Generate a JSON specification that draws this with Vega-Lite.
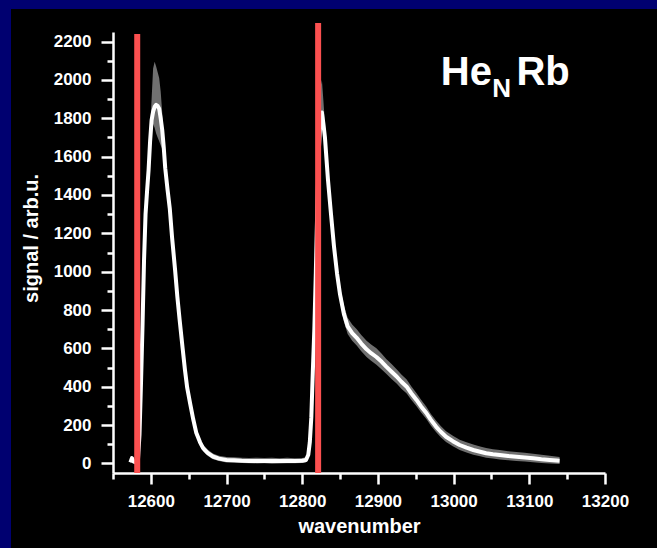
{
  "$schema": "https://vega.github.io/schema/vega-lite/v6.json",
  "width": 657,
  "height": 548,
  "autosize": {"type": "none", "contains": "padding"},
  "padding": {"left": 11, "top": 9, "right": 0, "bottom": 0},
  "background": "#000070",
  "config": {
    "view": {"fill": "black", "stroke": null},
    "font": "Liberation Sans",
    "axis": {
      "grid": false,
      "domainColor": "white",
      "tickColor": "white",
      "labelColor": "white",
      "titleColor": "white",
      "domainWidth": 2.5,
      "tickWidth": 2.5,
      "labelFont": "Liberation Sans",
      "labelFontSize": 17,
      "labelFontWeight": "bold",
      "titleFont": "Liberation Sans",
      "titleFontSize": 20,
      "titleFontWeight": "bold"
    }
  },
  "datasets": {
    "spectrum": [
      {"wn": 12573, "sig": 5, "lo": 0, "hi": 15},
      {"wn": 12575, "sig": 28, "lo": 15, "hi": 40},
      {"wn": 12577, "sig": 10, "lo": 0, "hi": 20},
      {"wn": 12580, "sig": 5, "lo": 0, "hi": 15},
      {"wn": 12583, "sig": 20, "lo": 5, "hi": 35},
      {"wn": 12585, "sig": 150, "lo": 120, "hi": 180},
      {"wn": 12587, "sig": 420, "lo": 390, "hi": 450},
      {"wn": 12589, "sig": 720, "lo": 690, "hi": 750},
      {"wn": 12591, "sig": 1060, "lo": 1030, "hi": 1090},
      {"wn": 12593, "sig": 1300, "lo": 1270, "hi": 1340},
      {"wn": 12595, "sig": 1420, "lo": 1390, "hi": 1460},
      {"wn": 12597, "sig": 1530, "lo": 1500, "hi": 1580},
      {"wn": 12599, "sig": 1680, "lo": 1640, "hi": 1740},
      {"wn": 12601, "sig": 1790, "lo": 1740, "hi": 1900},
      {"wn": 12603, "sig": 1835, "lo": 1770, "hi": 2060},
      {"wn": 12605, "sig": 1860, "lo": 1750, "hi": 2095},
      {"wn": 12607, "sig": 1870, "lo": 1720, "hi": 2070},
      {"wn": 12609, "sig": 1865, "lo": 1700, "hi": 2040},
      {"wn": 12611, "sig": 1850, "lo": 1680, "hi": 2010},
      {"wn": 12613, "sig": 1800, "lo": 1660, "hi": 1940},
      {"wn": 12615, "sig": 1740, "lo": 1640, "hi": 1830},
      {"wn": 12617, "sig": 1650, "lo": 1610, "hi": 1700},
      {"wn": 12619, "sig": 1540, "lo": 1515, "hi": 1565},
      {"wn": 12622, "sig": 1430, "lo": 1405, "hi": 1455},
      {"wn": 12625, "sig": 1330, "lo": 1305, "hi": 1355},
      {"wn": 12628, "sig": 1180, "lo": 1155, "hi": 1205},
      {"wn": 12632, "sig": 1010, "lo": 985, "hi": 1035},
      {"wn": 12635, "sig": 870, "lo": 850, "hi": 890},
      {"wn": 12638, "sig": 750, "lo": 730, "hi": 770},
      {"wn": 12642, "sig": 600, "lo": 580, "hi": 620},
      {"wn": 12645, "sig": 490, "lo": 470, "hi": 510},
      {"wn": 12648, "sig": 395, "lo": 375, "hi": 415},
      {"wn": 12652, "sig": 310, "lo": 290, "hi": 330},
      {"wn": 12656, "sig": 230, "lo": 210, "hi": 250},
      {"wn": 12660, "sig": 160, "lo": 142, "hi": 180},
      {"wn": 12665, "sig": 110, "lo": 92, "hi": 130},
      {"wn": 12669, "sig": 80, "lo": 64, "hi": 98},
      {"wn": 12675, "sig": 55, "lo": 40, "hi": 72},
      {"wn": 12682, "sig": 36, "lo": 22, "hi": 52},
      {"wn": 12690, "sig": 25, "lo": 12, "hi": 40},
      {"wn": 12700, "sig": 18, "lo": 5, "hi": 34},
      {"wn": 12710, "sig": 16, "lo": 4, "hi": 32},
      {"wn": 12720, "sig": 14, "lo": 2, "hi": 30},
      {"wn": 12730, "sig": 13, "lo": 1, "hi": 28},
      {"wn": 12740, "sig": 12, "lo": 0, "hi": 30},
      {"wn": 12750, "sig": 13, "lo": 1, "hi": 28},
      {"wn": 12760, "sig": 12, "lo": -2, "hi": 30},
      {"wn": 12770, "sig": 12, "lo": 0, "hi": 27},
      {"wn": 12780, "sig": 13, "lo": 1, "hi": 29},
      {"wn": 12790, "sig": 13, "lo": 1, "hi": 27},
      {"wn": 12800, "sig": 14, "lo": 2, "hi": 28},
      {"wn": 12805, "sig": 18, "lo": 6, "hi": 32},
      {"wn": 12808, "sig": 45, "lo": 30, "hi": 60},
      {"wn": 12810, "sig": 110, "lo": 90, "hi": 130},
      {"wn": 12812, "sig": 240, "lo": 215, "hi": 265},
      {"wn": 12814, "sig": 480, "lo": 455, "hi": 505},
      {"wn": 12816, "sig": 700, "lo": 670, "hi": 730},
      {"wn": 12818, "sig": 1000, "lo": 960, "hi": 1040},
      {"wn": 12820, "sig": 1350, "lo": 1300, "hi": 1400},
      {"wn": 12822, "sig": 1640, "lo": 1580, "hi": 1740},
      {"wn": 12824, "sig": 1790, "lo": 1720, "hi": 1960},
      {"wn": 12826, "sig": 1830, "lo": 1760, "hi": 2000},
      {"wn": 12828, "sig": 1770, "lo": 1720, "hi": 1890},
      {"wn": 12830, "sig": 1700, "lo": 1660, "hi": 1770},
      {"wn": 12832, "sig": 1590, "lo": 1560, "hi": 1630},
      {"wn": 12834, "sig": 1480, "lo": 1450, "hi": 1510},
      {"wn": 12838, "sig": 1300, "lo": 1270, "hi": 1330},
      {"wn": 12842, "sig": 1130, "lo": 1100, "hi": 1160},
      {"wn": 12846, "sig": 990, "lo": 960, "hi": 1025},
      {"wn": 12850, "sig": 880, "lo": 845, "hi": 920},
      {"wn": 12855, "sig": 780, "lo": 740, "hi": 825},
      {"wn": 12860, "sig": 715, "lo": 675, "hi": 760},
      {"wn": 12866, "sig": 680, "lo": 640, "hi": 725},
      {"wn": 12872, "sig": 655, "lo": 615, "hi": 700},
      {"wn": 12878, "sig": 625, "lo": 585, "hi": 670},
      {"wn": 12885, "sig": 595, "lo": 555, "hi": 640},
      {"wn": 12891, "sig": 575, "lo": 535, "hi": 620},
      {"wn": 12898, "sig": 555, "lo": 515, "hi": 600},
      {"wn": 12905, "sig": 530, "lo": 490, "hi": 572},
      {"wn": 12911, "sig": 505, "lo": 467, "hi": 545},
      {"wn": 12918, "sig": 478, "lo": 440, "hi": 518},
      {"wn": 12925, "sig": 452, "lo": 415, "hi": 490},
      {"wn": 12931, "sig": 426, "lo": 390, "hi": 464},
      {"wn": 12938, "sig": 400, "lo": 365, "hi": 438},
      {"wn": 12944, "sig": 366, "lo": 332, "hi": 402},
      {"wn": 12951, "sig": 331, "lo": 298, "hi": 366},
      {"wn": 12957, "sig": 297, "lo": 265, "hi": 332},
      {"wn": 12964, "sig": 263, "lo": 232, "hi": 296},
      {"wn": 12970, "sig": 227, "lo": 197, "hi": 258},
      {"wn": 12977, "sig": 191, "lo": 162, "hi": 222},
      {"wn": 12983, "sig": 165, "lo": 137, "hi": 195},
      {"wn": 12990, "sig": 139, "lo": 112, "hi": 168},
      {"wn": 12999, "sig": 116, "lo": 90, "hi": 144},
      {"wn": 13008, "sig": 96, "lo": 70, "hi": 124},
      {"wn": 13017, "sig": 82, "lo": 57, "hi": 110},
      {"wn": 13026, "sig": 70, "lo": 45, "hi": 98},
      {"wn": 13035, "sig": 61, "lo": 37, "hi": 88},
      {"wn": 13043, "sig": 53, "lo": 30, "hi": 80},
      {"wn": 13052, "sig": 48, "lo": 25, "hi": 74},
      {"wn": 13061, "sig": 44, "lo": 21, "hi": 70},
      {"wn": 13072, "sig": 39, "lo": 17, "hi": 64},
      {"wn": 13083, "sig": 35, "lo": 13, "hi": 60},
      {"wn": 13094, "sig": 31, "lo": 10, "hi": 55},
      {"wn": 13105, "sig": 27, "lo": 6, "hi": 50},
      {"wn": 13116, "sig": 22, "lo": 2, "hi": 45},
      {"wn": 13127, "sig": 18, "lo": 0, "hi": 40},
      {"wn": 13140, "sig": 14, "lo": -3, "hi": 34}
    ],
    "markers": [
      {"wn": 12582, "top": 2240, "bottom": -50},
      {"wn": 12821, "top": 2297, "bottom": -50}
    ],
    "mainLabel": [
      {"wn": 12983, "sig": 1974, "text": "He"},
      {"wn": 13083, "sig": 1974, "text": "Rb"}
    ],
    "subLabel": [
      {"wn": 13051, "sig": 1911, "text": "N"}
    ]
  },
  "layer": [
    {
      "data": {"name": "spectrum"},
      "mark": {"type": "area", "color": "#a0a0a0", "opacity": 0.7},
      "encoding": {
        "x": {
          "field": "wn", "type": "quantitative",
          "scale": {"domain": [12550, 13200], "range": [102, 594], "nice": false, "zero": false},
          "axis": {
            "orient": "bottom", "offset": -75, "format": "d",
            "values": [12600, 12700, 12800, 12900, 13000, 13100, 13200],
            "tickSize": 11, "labelPadding": 9, "labelFlush": false, "labelOverlap": false,
            "title": "wavenumber", "titlePadding": 7
          }
        },
        "y": {
          "field": "hi", "type": "quantitative",
          "scale": {"domain": [-50, 2250], "range": [464, 23], "nice": false, "zero": false},
          "axis": {
            "orient": "left", "offset": -102, "format": "d",
            "values": [0, 200, 400, 600, 800, 1000, 1200, 1400, 1600, 1800, 2000, 2200],
            "tickSize": 12, "labelPadding": 10, "labelFlush": false, "labelOverlap": false,
            "title": "signal / arb.u.", "titlePadding": 12, "titleY": 229
          }
        },
        "y2": {"field": "lo"}
      }
    },
    {
      "data": {"name": "spectrum"},
      "mark": {"type": "line", "color": "white", "strokeWidth": 4, "strokeJoin": "round"},
      "encoding": {
        "x": {
          "field": "wn", "type": "quantitative",
          "scale": {"domain": [12550, 13200], "range": [102, 594], "nice": false, "zero": false},
          "axis": {
            "orient": "bottom", "offset": -75,
            "values": [12550, 12650, 12750, 12850, 12950, 13050, 13150],
            "tickSize": 6, "labels": false, "domain": false, "title": null
          }
        },
        "y": {
          "field": "sig", "type": "quantitative",
          "scale": {"domain": [-50, 2250], "range": [464, 23], "nice": false, "zero": false},
          "axis": {
            "orient": "left", "offset": -102,
            "values": [100, 300, 500, 700, 900, 1100, 1300, 1500, 1700, 1900, 2100],
            "tickSize": 6, "labels": false, "domain": false, "title": null
          }
        }
      }
    },
    {
      "data": {"name": "markers"},
      "mark": {"type": "rule", "color": "#fb5050", "strokeWidth": 6},
      "encoding": {
        "x": {"field": "wn", "type": "quantitative", "axis": null},
        "y": {"field": "bottom", "type": "quantitative", "axis": null},
        "y2": {"field": "top"}
      }
    },
    {
      "data": {"name": "mainLabel"},
      "mark": {"type": "text", "color": "white", "fontSize": 40, "fontWeight": "bold", "align": "left", "baseline": "alphabetic"},
      "encoding": {
        "x": {"field": "wn", "type": "quantitative", "axis": null},
        "y": {"field": "sig", "type": "quantitative", "axis": null},
        "text": {"field": "text", "type": "nominal"}
      }
    },
    {
      "data": {"name": "subLabel"},
      "mark": {"type": "text", "color": "white", "fontSize": 26, "fontWeight": "bold", "align": "left", "baseline": "alphabetic"},
      "encoding": {
        "x": {"field": "wn", "type": "quantitative", "axis": null},
        "y": {"field": "sig", "type": "quantitative", "axis": null},
        "text": {"field": "text", "type": "nominal"}
      }
    }
  ],
  "resolve": {"axis": {"x": "independent", "y": "independent"}}
}
